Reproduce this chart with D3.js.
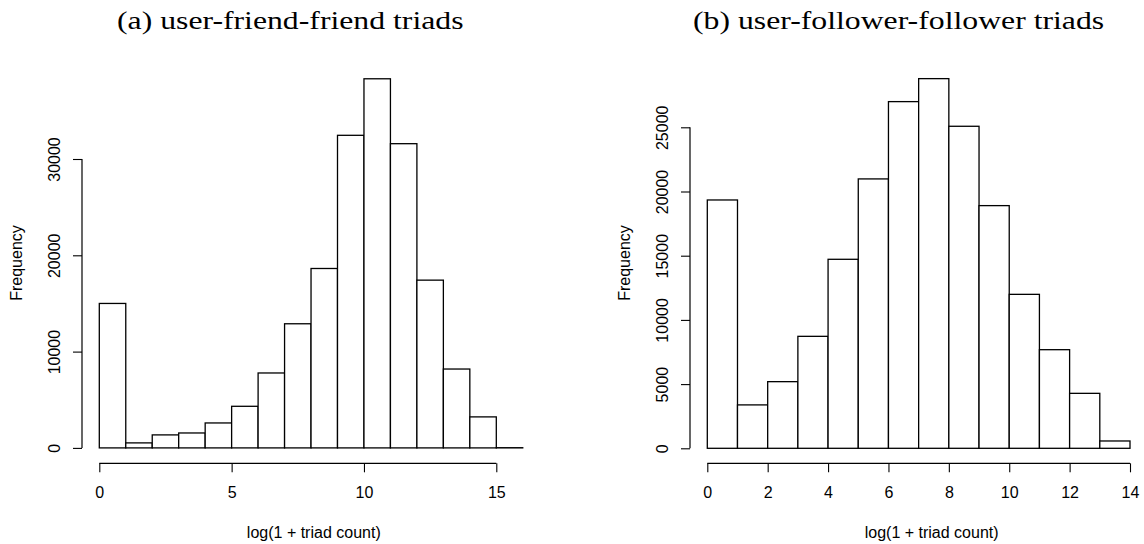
<!DOCTYPE html>
<html>
<head>
<meta charset="utf-8">
<script src="https://cdn.jsdelivr.net/npm/d3@7"></script>
<style>
    body { margin: 0; background: #fff; }
    svg { display: block; }
</style>
</head>
<body>
<svg id="chart" width="1144" height="544"></svg>
<script>
// counts per unit-wide bin, starting at 0
const friendCounts = [15000, 520, 1350, 1550, 2590, 4320, 7780, 12890, 18630, 32460, 38330, 31590, 17420, 8190, 3220, 20];
const followerCounts = [19340, 3380, 5190, 8720, 14720, 20980, 27000, 28790, 25080, 18900, 11990, 7680, 4280, 570];

const friendXTicks = [0, 5, 10, 15];
const friendYTicks = [0, 10000, 20000, 30000];
const followerXTicks = [0, 2, 4, 6, 8, 10, 12, 14];
const followerYTicks = [0, 5000, 10000, 15000, 20000, 25000];

const titles = ["(a) user-friend-friend triads", "(b) user-follower-follower triads"];
const xLabel = "log(1 + triad count)";
const yLabel = "Frequency";

const svg = d3.select("#chart");

function drawHist(counts, xTicks, yTicks, title, opt) {
    const g = svg.append("g").attr("class", "panel");

    const x = d3.scaleLinear()
        .domain([0, xTicks[xTicks.length - 1]])
        .range([opt.x0, opt.x1]);
    const y = d3.scaleLinear()
        .domain([0, yTicks[yTicks.length - 1]])
        .range([opt.y0, opt.y1]);

    // bars
    g.append("g").selectAll("rect")
        .data(counts)
        .enter().append("rect")
        .attr("x", (d, i) => x(i))
        .attr("width", (d, i) => x(i + 1) - x(i))
        .attr("y", d => y(d))
        .attr("height", d => y(0) - y(d))
        .attr("fill", "#fff")
        .attr("stroke", "#000")
        .attr("stroke-width", 1.3);

    // x axis, drawn below the plot like base R
    const xAxis = g.append("g")
        .attr("transform", "translate(0," + opt.xAxisY + ")")
        .call(d3.axisBottom(x).tickValues(xTicks).tickSize(9).tickPadding(14).tickFormat(d3.format("d")));
    // y axis on the left edge of the plot region
    const yAxis = g.append("g")
        .attr("transform", "translate(" + opt.yAxisX + ",0)")
        .call(d3.axisLeft(y).tickValues(yTicks).tickSize(9).tickFormat(d3.format("d")));

    [xAxis, yAxis].forEach(a => {
        a.select(".domain").attr("stroke", "#000").attr("stroke-width", 1.2);
        a.selectAll(".tick line").attr("stroke", "#000").attr("stroke-width", 1.1);
        a.selectAll("text")
            .attr("fill", "#000")
            .style("font-family", "Liberation Sans, Arial, sans-serif")
            .style("font-size", "16px");
    });
    // base R axis lines stop at the outer ticks
    xAxis.select(".domain").attr("d", "M" + x(xTicks[0]) + ",0H" + x(xTicks[xTicks.length - 1]));
    yAxis.select(".domain").attr("d", "M0," + y(yTicks[0]) + "V" + y(yTicks[yTicks.length - 1]));

    // y tick labels are rotated, parallel to the axis
    yAxis.selectAll(".tick text")
        .attr("x", null)
        .attr("dy", null)
        .attr("text-anchor", "middle")
        .attr("transform", "translate(-22,0) rotate(-90)");

    g.append("text")
        .attr("x", (opt.x0 + opt.x1) / 2 + opt.xLabelShift)
        .attr("y", opt.xLabelY)
        .attr("text-anchor", "middle")
        .style("font-family", "Liberation Sans, Arial, sans-serif")
        .style("font-size", "16px")
        .text(xLabel);

    g.append("text")
        .attr("transform", "translate(" + (opt.yAxisX - 60) + "," + opt.yLabelY + ") rotate(-90)")
        .attr("text-anchor", "middle")
        .style("font-family", "Liberation Sans, Arial, sans-serif")
        .style("font-size", "16px")
        .text(yLabel);

    // caption in Times, stretched sideways like the reference
    g.append("text")
        .attr("transform", "translate(" + opt.titleX + ",29) scale(1.27,1)")
        .style("font-family", "Liberation Serif, Times New Roman, serif")
        .style("font-size", "25px")
        .text(title);
}

drawHist(friendCounts, friendXTicks, friendYTicks, titles[0], {
    x0: 99.3, x1: 496.3, y0: 447.9, y1: 159.0,
    xAxisY: 463.3, yAxisX: 82, xLabelShift: 16, xLabelY: 538, yLabelY: 263, titleX: 117
});
drawHist(followerCounts, followerXTicks, followerYTicks, titles[1], {
    x0: 707.3, x1: 1130, y0: 448.3, y1: 127.3,
    xAxisY: 463.3, yAxisX: 690, xLabelShift: 13, xLabelY: 538, yLabelY: 263, titleX: 693
});
</script>
</body>
</html>
